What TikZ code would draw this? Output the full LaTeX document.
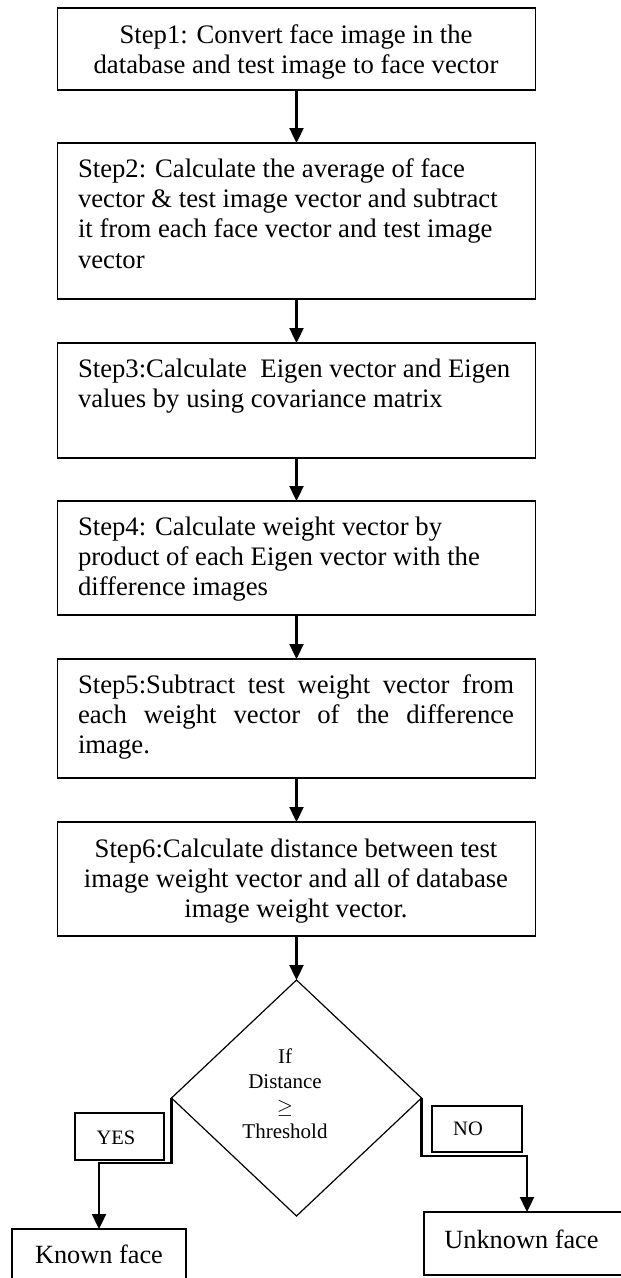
\documentclass[tikz,border=0pt]{standalone}
\usepackage{fontspec}
\setmainfont{Liberation Serif}
\usetikzlibrary{shapes.geometric,arrows.meta}
\begin{document}
\begin{tikzpicture}[x=1pt,y=-1pt,
  stepbox/.style={draw,line width=1.8pt,minimum width=478pt,inner sep=0pt,outer sep=0pt},
  steptext/.style={inner sep=0pt,outer sep=0pt,font=\fontsize{26.7}{30.3}\selectfont},
  arr/.style={line width=2.3pt,-{Triangle[width=14pt,length=15pt]}},
  lblbox/.style={draw,line width=1.5pt,inner sep=0pt,outer sep=0pt,anchor=base,font=\fontsize{20.5}{24}\selectfont},
  endbox/.style={draw,line width=1.8pt,inner sep=0pt,outer sep=0pt,anchor=base,font=\fontsize{26.3}{30}\selectfont},
  decision/.style={diamond,draw,line width=1.2pt,minimum width=250pt,minimum height=236pt,inner sep=0pt,outer sep=0pt}
]
\useasboundingbox (0,0) rectangle (621,1278);
\clip (0,0) rectangle (621,1278);

% step boxes
\node[stepbox,minimum height=82pt]  (b1) at (296.5,49) {};
\node[stepbox,minimum height=156pt] (b2) at (296.5,221) {};
\node[stepbox,minimum height=115pt] (b3) at (296.5,400.5) {};
\node[stepbox,minimum height=114pt] (b4) at (296.5,558) {};
\node[stepbox,minimum height=119pt] (b5) at (296.5,718.5) {};
\node[stepbox,minimum height=114pt] (b6) at (296.5,879) {};

% step texts
\node[steptext,anchor=north,align=center] (t1) at (296,22)
  {\strut Step1: Convert face image in the\\\strut database and test image to face vector};
\node[steptext,anchor=north west,align=left] (t2) at (78,156)
  {\strut Step2: Calculate the average of face\\\strut vector \& test image vector and subtract\\\strut it from each face vector and test image\\\strut vector};
\node[steptext,anchor=north west,align=left] (t3) at (78,356)
  {\strut Step3:Calculate~ Eigen vector and Eigen\\\strut values by using covariance matrix};
\node[steptext,anchor=north west,align=left] (t4) at (78,514)
  {\strut Step4: Calculate weight vector by\\\strut product of each Eigen vector with the\\\strut difference images};
\node[steptext,anchor=north west,align=left] (t5) at (78,672)
  {\strut\makebox[436pt][s]{Step5:Subtract test weight vector from}\\\strut\makebox[436pt][s]{each weight vector of the difference}\\\strut image.};
\node[steptext,anchor=north,align=center] (t6) at (296,836)
  {\strut Step6:Calculate distance between test\\\strut image weight vector and all of database\\\strut image weight vector.};

% decision
\node[decision] (dec) at (296.5,1098) {};
\node[inner sep=0pt,outer sep=0pt,anchor=north,align=center,font=\fontsize{21}{25}\selectfont] (dtext) at (285,1046)
  {\strut If\\\strut Distance\\\strut $\geq$\\\strut Threshold};

% labels
\node[lblbox,minimum width=89pt,text height=31pt,text depth=16pt] (yes) at (119.5,1144) {YES\hspace*{7pt}};
\node[lblbox,minimum width=90pt,text height=29pt,text depth=17pt] (no) at (477,1135) {NO\hspace*{18pt}};

% end boxes
\node[endbox,minimum width=174pt,text height=34pt,text depth=27pt] (known) at (99,1263) {Known face};
\node[endbox,minimum width=206pt,text height=36pt,text depth=27pt] (unk) at (527,1248) {Unknown face\hspace*{11pt}};

% connectors
\draw[arr] (b1.south) -- (b2.north);
\draw[arr] (b2.south) -- (b3.north);
\draw[arr] (b3.south) -- (b4.north);
\draw[arr] (b4.south) -- (b5.north);
\draw[arr] (b5.south) -- (b6.north);
\draw[arr] (b6.south) -- (dec.north);
\draw[arr] (dec.west) -- ++(0,65) -| (known.north);
\draw[arr] (dec.east) -- ++(0,58) -| (unk.north);
\end{tikzpicture}
\end{document}
